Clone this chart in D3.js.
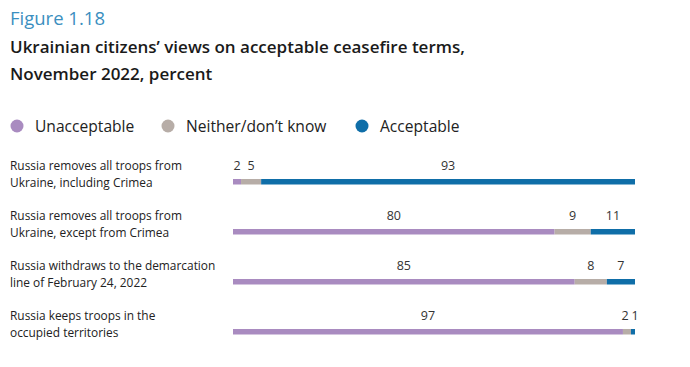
<!DOCTYPE html>
<html><head><meta charset="utf-8">
<script src="https://cdn.jsdelivr.net/npm/d3@7"></script>
<style>body{margin:0;background:#fff;} text{font-family:"Open Sans",Lato,sans-serif;}</style>
</head><body>
<svg id="c" width="690" height="367"></svg>
<script>
const categories = [
  ["Russia removes all troops from", "Ukraine, including Crimea"],
  ["Russia removes all troops from", "Ukraine, except from Crimea"],
  ["Russia withdraws to the demarcation", "line of February 24, 2022"],
  ["Russia keeps troops in the", "occupied territories"]
];
const seriesNames = ["Unacceptable", "Neither/don’t know", "Acceptable"];
const unacceptable = [2, 80, 85, 97];
const neither = [5, 9, 8, 2];
const acceptable = [93, 11, 7, 1];
const colors = ["#a98bc0", "#b7ada7", "#0f6ea8"];

const svg = d3.select("#c");
svg.append("text").attr("x", 10).attr("y", 25).attr("font-size", 18.5).attr("fill", "#3b8fc0").text("Figure 1.18");
svg.append("text").attr("x", 10).attr("y", 53).attr("font-size", 17).attr("font-weight", 600).attr("fill", "#1a1a1a").text("Ukrainian citizens’ views on acceptable ceasefire terms,");
svg.append("text").attr("x", 10).attr("y", 80).attr("font-size", 17).attr("font-weight", 600).attr("fill", "#1a1a1a").text("November 2022, percent");

const legendX = [17, 168, 362];
seriesNames.forEach((n, i) => {
  svg.append("circle").attr("cx", legendX[i]).attr("cy", 126).attr("r", 6.5).attr("fill", colors[i]);
  svg.append("text").attr("x", legendX[i] + 18).attr("y", 131.5).attr("font-size", 15.6).attr("fill", "#222").text(n);
});

const x = d3.scaleLinear().domain([0, 100]).range([233, 635]);
const y = d3.scaleBand().domain(d3.range(categories.length)).range([155, 355]).paddingInner(0).paddingOuter(0);
const series = [unacceptable, neither, acceptable];
const stack = d3.stack().keys([0, 1, 2]).value((d, k) => series[k][d]);
const stacked = stack(d3.range(categories.length));

categories.forEach((lines, i) => {
  const y0 = y(i);
  const t = svg.append("text").attr("font-size", 11.9).attr("fill", "#222");
  lines.forEach((l, j) => t.append("tspan").attr("x", 10).attr("y", y0 + 15 + j * 17).text(l));
});

stacked.forEach((layer, k) => {
  svg.selectAll(null).data(layer).enter().append("rect")
    .attr("x", d => x(d[0])).attr("width", d => x(d[1]) - x(d[0]))
    .attr("y", (d, i) => y(i) + 24).attr("height", 5.5)
    .attr("fill", colors[k]);
});

d3.range(categories.length).forEach(i => {
  const labs = stacked.map((layer, k) => ({v: series[k][i], cx: (x(layer[i][0]) + x(layer[i][1])) / 2}));
  for (let a = 1; a < labs.length; a++) {
    const minD = 10;
    if (labs[a].cx - labs[a-1].cx < minD) {
      const mid = (labs[a].cx + labs[a-1].cx) / 2;
      labs[a-1].cx = Math.min(labs[a-1].cx, mid - minD / 2);
      labs[a].cx = Math.max(labs[a].cx, mid + minD / 2);
    }
  }
  labs.forEach(l => svg.append("text").attr("x", l.cx).attr("y", y(i) + 15)
    .attr("text-anchor", "middle").attr("font-size", 12.5).attr("fill", "#333").text(l.v));
});
</script>
</body></html>
